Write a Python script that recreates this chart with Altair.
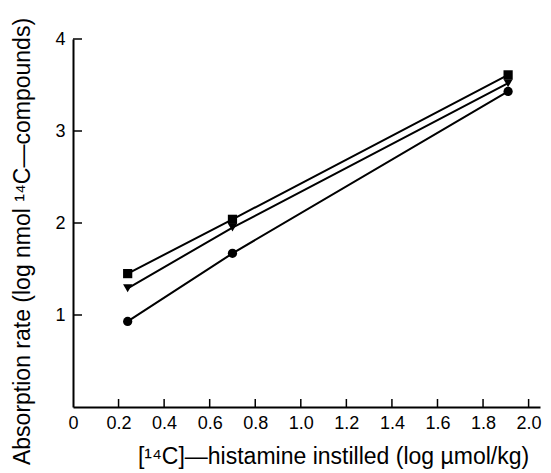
import altair as alt
import pandas as pd

# Data
x_vals = [0.24, 0.70, 1.91]
square_vals = [1.45, 2.04, 3.61]
triangle_vals = [1.29, 1.95, 3.52]
circle_vals = [0.93, 1.67, 3.43]
series_names = ["square", "triangle", "circle"]
series_shapes = ["square", "triangle-down", "circle"]
x_ticks = [0.2, 0.4, 0.6, 0.8, 1.0, 1.2, 1.4, 1.6, 1.8, 2.0]
x_labels = [0, 0.2, 0.4, 0.6, 0.8, 1.0, 1.2, 1.4, 1.6, 1.8, 2.0]
y_ticks = [1, 2, 3, 4]

rows = []
for name, vals in zip(series_names, [square_vals, triangle_vals, circle_vals]):
    for xv, yv in zip(x_vals, vals):
        rows.append({"series": name, "x": xv, "y": yv})
df = pd.DataFrame(rows)

W, H = 467, 368
FONT = "Liberation Sans"

xscale = alt.Scale(domain=[0, 2.05], nice=False, zero=False)
yscale = alt.Scale(domain=[0, 4], nice=False, zero=False)

xaxis = alt.Axis(
    values=x_labels, labelExpr="datum.value == 0 ? '0' : format(datum.value, '.1f')",
    ticks=False, grid=False, domainColor="black", domainWidth=2,
    labelFont=FONT, labelFontSize=18, labelColor="black", labelPadding=7,
    title="[¹⁴C]—histamine instilled (log µmol/kg)", titleFont=FONT, titleFontSize=23,
    titleFontWeight="normal", titleColor="black", titleX=260, titleY=49,
    titleAlign="center", titleBaseline="middle", labelFlush=False,
)
yaxis = alt.Axis(
    values=y_ticks, format="d", ticks=False, grid=False, domainColor="black", domainWidth=2,
    labelFont=FONT, labelFontSize=18, labelColor="black", labelPadding=8,
    title="Absorption rate (log nmol ¹⁴C—compounds)", titleFont=FONT, titleFontSize=23,
    titleFontWeight="normal", titleColor="black", titleX=-51, titleY=202,
    titleAngle=-90, titleAlign="center", titleBaseline="middle",
)

base = alt.Chart(df)
lines = base.mark_line(color="black", strokeWidth=2).encode(
    x=alt.X("x:Q", scale=xscale, axis=xaxis),
    y=alt.Y("y:Q", scale=yscale, axis=yaxis),
    detail="series:N",
)
points = base.mark_point(filled=True, opacity=1, color="black", size=85).encode(
    x=alt.X("x:Q", scale=xscale),
    y=alt.Y("y:Q", scale=yscale),
    shape=alt.Shape("series:N", scale=alt.Scale(domain=series_names, range=series_shapes), legend=None),
)

xt = alt.Chart(pd.DataFrame({"t": x_ticks})).mark_rule(color="black", strokeWidth=1.5).encode(
    x=alt.X("t:Q", scale=xscale), y=alt.value(H), y2=alt.value(H - 8)
)
yt = alt.Chart(pd.DataFrame({"t": y_ticks})).mark_rule(color="black", strokeWidth=1.5).encode(
    y=alt.Y("t:Q", scale=yscale), x=alt.value(0), x2=alt.value(9)
)

chart = alt.layer(lines, points, xt, yt).properties(
    width=W, height=H,
    padding={"left": 73, "top": 39, "right": 11, "bottom": 66},
    autosize=alt.AutoSizeParams(type="none"),
    background="white",
).configure_view(stroke=None)

chart.save("out.html", embed_options={"renderer": "svg", "actions": False})
